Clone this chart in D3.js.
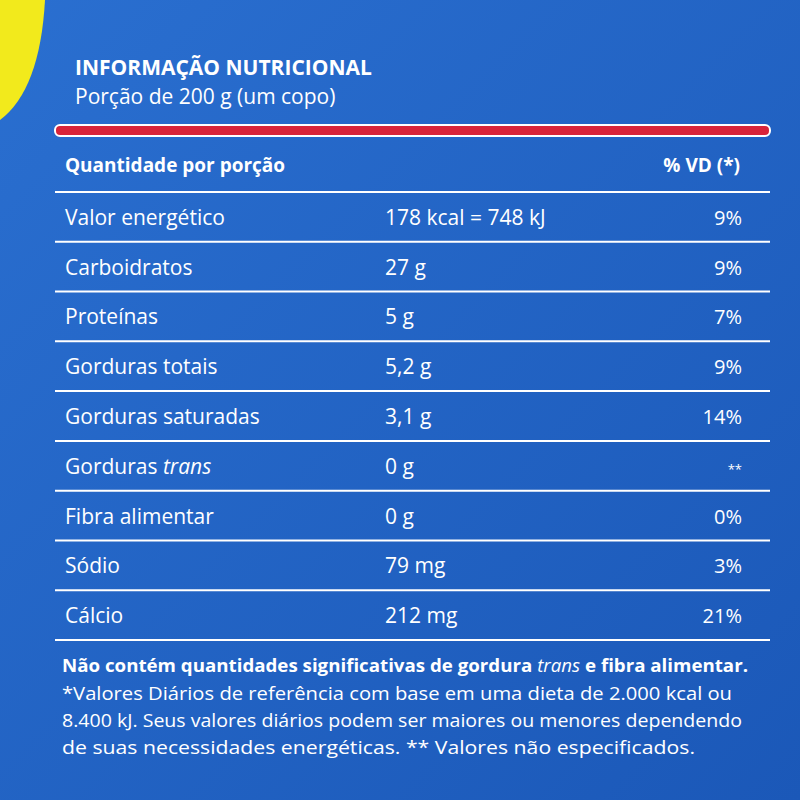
<!DOCTYPE html><html><head><meta charset="utf-8"><script src="https://cdn.jsdelivr.net/npm/d3@7"></script>
<style>body{margin:0}svg{display:block}</style></head><body><svg width="800" height="800"></svg>
<script>
const nutrients=["Valor energético","Carboidratos","Proteínas","Gorduras totais","Gorduras saturadas","Gorduras trans","Fibra alimentar","Sódio","Cálcio"];
const amounts=["178 kcal = 748 kJ","27 g","5 g","5,2 g","3,1 g","0 g","0 g","79 mg","212 mg"];
const vd=["9%","9%","7%","9%","14%","**","0%","3%","21%"];
const footer=["*Valores Diários de referência com base em uma dieta de 2.000 kcal ou","8.400 kJ. Seus valores diários podem ser maiores ou menores dependendo","de suas necessidades energéticas. ** Valores não especificados."];
const svg=d3.select("svg");
const defs=svg.append("defs");
const g=defs.append("linearGradient").attr("id","bg").attr("x1",0).attr("y1",0).attr("x2",1).attr("y2",1);
g.append("stop").attr("offset",0).attr("stop-color","#2a6fd0");
g.append("stop").attr("offset",1).attr("stop-color","#1b58b8");
svg.append("rect").attr("width",800).attr("height",800).attr("fill","url(#bg)");
svg.append("path").attr("d","M0,0 L45,0 Q40,90 0,120 Z").attr("fill","#f2ea1c");
const F="'Open Sans',sans-serif";
svg.append("text").attr("x",75).attr("y",75).attr("fill","#fff").attr("font-family",F).attr("font-weight",700).attr("font-size",21).text("INFORMAÇÃO NUTRICIONAL");
svg.append("text").attr("x",75).attr("y",104).attr("fill","#fff").attr("font-family",F).attr("font-size",21).text("Porção de 200 g (um copo)");
svg.append("rect").attr("x",55).attr("y",125).attr("width",715).attr("height",11).attr("rx",5).attr("fill","#d8243a").attr("stroke","#fff").attr("stroke-width",2);
svg.append("text").attr("x",65).attr("y",172).attr("fill","#fff").attr("font-family",F).attr("font-weight",700).attr("font-size",19).text("Quantidade  por porção");
svg.append("text").attr("x",740).attr("y",172).attr("text-anchor","end").attr("fill","#fff").attr("font-family",F).attr("font-weight",700).attr("font-size",19).text("% VD (*)");
const y=d3.scaleBand().domain(d3.range(nutrients.length)).range([192,640]);
const line=(yy)=>svg.append("line").attr("x1",55).attr("x2",770).attr("y1",yy).attr("y2",yy).attr("stroke","#fff").attr("stroke-width",2);
line(192);
nutrients.forEach((n,i)=>{
  const cy=y(i)+y.bandwidth()/2+8;
  const t=svg.append("text").attr("x",65).attr("y",cy).attr("fill","#fff").attr("font-family",F).attr("font-size",21);
  if(n==="Gorduras trans"){t.append("tspan").text("Gorduras ");t.append("tspan").attr("font-style","italic").text("trans");}
  else t.text(n);
  svg.append("text").attr("x",385).attr("y",cy).attr("fill","#fff").attr("font-family",F).attr("font-size",21).text(amounts[i]);
  svg.append("text").attr("x",742).attr("y",cy).attr("text-anchor","end").attr("fill","#fff").attr("font-family",F).attr("font-size",n==="Gorduras trans"?13:20).text(vd[i]);
  line(y(i)+y.bandwidth());
});
const ft=svg.append("text").attr("x",62).attr("y",672).attr("fill","#fff").attr("font-family",F).attr("font-weight",700).attr("font-size",18.5).attr("textLength",686).attr("lengthAdjust","spacingAndGlyphs");
ft.append("tspan").text("Não contém quantidades significativas de gordura ");
ft.append("tspan").attr("font-style","italic").attr("font-weight",400).text("trans");
ft.append("tspan").text(" e fibra alimentar.");
const lens=[670,680,633];
footer.forEach((s,i)=>svg.append("text").attr("x",62).attr("y",700+i*27).attr("fill","#fff").attr("font-family",F).attr("font-size",18).attr("textLength",lens[i]).attr("lengthAdjust","spacingAndGlyphs").text(s));
</script></body></html>
